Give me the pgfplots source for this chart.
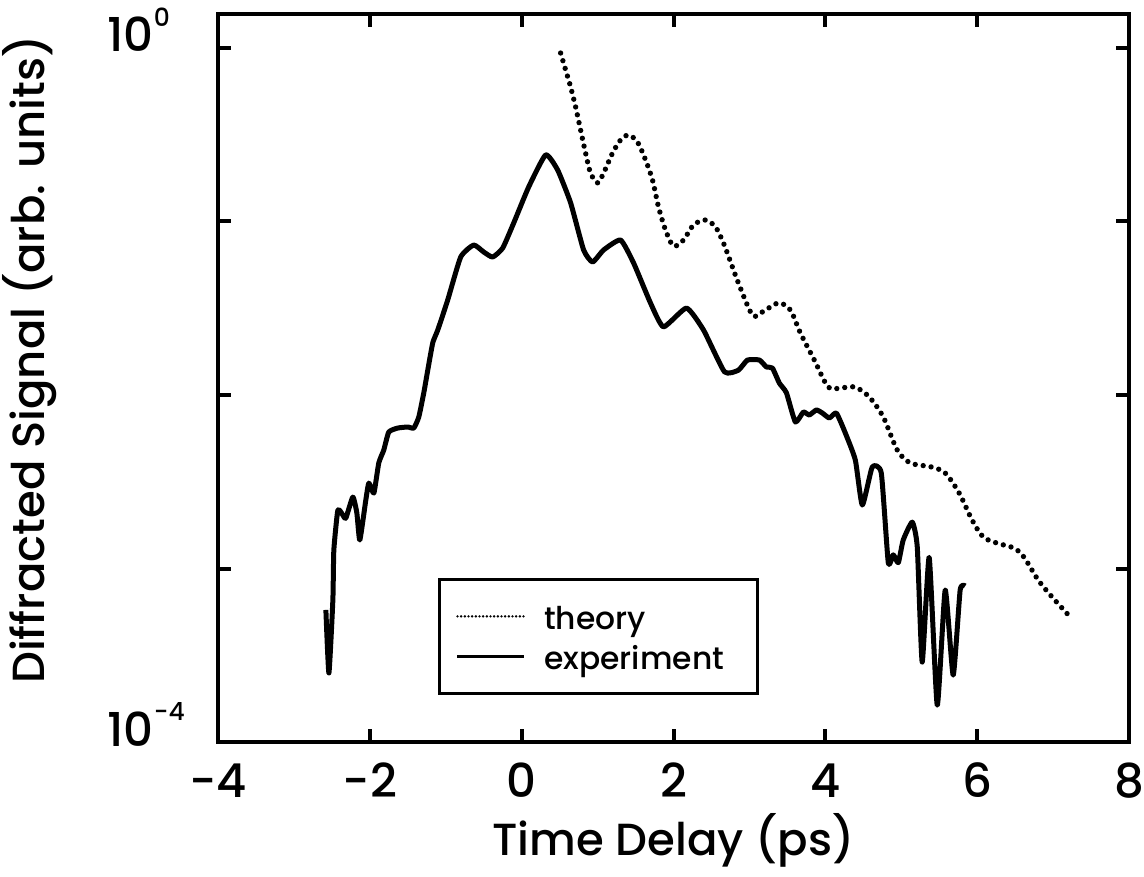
\documentclass[border=0pt]{standalone}
\usepackage{pgfplots}
\pgfplotsset{compat=1.18}
\usepackage{fontspec}
\setmainfont{Poppins}[UprightFont=* Medium]
\usetikzlibrary{calc}

\pgfplotstableread{
x y
-2.579 5.77e-4
-2.539 2.50e-4
-2.487 6.58e-4
-2.474 1.28e-3
-2.421 2.17e-3
-2.355 2.03e-3
-2.316 1.95e-3
-2.224 2.58e-3
-2.171 2.09e-3
-2.132 1.46e-3
-2.053 2.48e-3
-2.013 3.11e-3
-1.947 2.72e-3
-1.882 4.06e-3
-1.816 4.82e-3
-1.750 6.12e-3
-1.632 6.45e-3
-1.500 6.54e-3
-1.421 6.45e-3
-1.355 7.47e-3
-1.289 1.03e-2
-1.237 1.39e-2
-1.171 2.00e-2
-1.105 2.37e-2
-0.974 3.53e-2
-0.803 6.24e-2
-0.632 7.32e-2
-0.500 6.67e-2
-0.382 6.24e-2
-0.250 7.03e-2
-0.105 9.80e-2
0.092 0.158
0.316 0.242
0.474 0.198
0.645 0.128
0.816 6.85e-2
0.934 5.84e-2
1.079 6.85e-2
1.303 7.82e-2
1.474 5.77e-2
1.697 3.39e-2
1.868 2.47e-2
2.171 3.17e-2
2.395 2.37e-2
2.671 1.36e-2
2.855 1.39e-2
2.974 1.59e-2
3.132 1.59e-2
3.224 1.45e-2
3.303 1.43e-2
3.395 1.17e-2
3.487 1.03e-2
3.605 6.99e-3
3.711 7.98e-3
3.789 7.67e-3
3.882 8.20e-3
3.961 7.87e-3
4.053 7.37e-3
4.145 7.87e-3
4.263 6.04e-3
4.395 4.22e-3
4.487 2.32e-3
4.618 3.85e-3
4.737 3.55e-3
4.829 1.08e-3
4.895 1.20e-3
4.961 1.08e-3
5.026 1.46e-3
5.145 1.85e-3
5.211 1.33e-3
5.276 2.89e-4
5.368 1.16e-3
5.474 1.63e-4
5.579 7.52e-4
5.684 2.43e-4
5.776 7.52e-4
5.842 7.93e-4
}\experiment

\pgfplotstableread{
x y
0.513 0.935
0.579 0.747
0.645 0.596
0.711 0.457
0.776 0.337
0.842 0.248
0.908 0.190
1.000 0.167
1.079 0.190
1.197 0.248
1.303 0.295
1.408 0.315
1.526 0.287
1.632 0.226
1.724 0.173
1.803 0.121
1.895 8.93e-2
2.000 7.22e-2
2.132 7.82e-2
2.263 9.55e-2
2.421 0.102
2.553 9.30e-2
2.658 7.52e-2
2.776 5.47e-2
2.855 4.42e-2
3.039 2.89e-2
3.171 3.01e-2
3.382 3.39e-2
3.539 3.09e-2
3.671 2.28e-2
3.855 1.59e-2
4.039 1.11e-2
4.211 1.10e-2
4.395 1.11e-2
4.579 9.73e-3
4.763 7.47e-3
4.947 4.82e-3
5.118 4.06e-3
5.395 3.85e-3
5.579 3.55e-3
5.763 2.72e-3
5.934 1.90e-3
6.079 1.52e-3
6.263 1.40e-3
6.487 1.31e-3
6.618 1.16e-3
6.803 8.59e-4
6.987 6.85e-4
7.237 5.19e-4
}\theory

\newcommand{\supx}[1]{\raisebox{7.6pt}{\fontsize{7.5}{8}\selectfont #1}}

\begin{document}
\begin{tikzpicture}
\begin{axis}[
  scale only axis,
  width=273.3pt, height=218.4pt,
  xmin=-4, xmax=8,
  ymode=log, ymin=1e-4, ymax=1.57,
  axis line style={line width=1.2pt},
  every tick/.style={line width=1.2pt, black},
  major tick length=3.8pt,
  tick align=inside,
  xtick={-4,-2,0,2,4,6,8},
  xticklabels={−4,−2,0,2,4,6,8},
  ytick={1e-4,1e-3,1e-2,1e-1,1},
  yticklabels={10\supx{−4},,,,10\supx{0}},
  yminorticks=false,
  xtick pos=both, ytick pos=both,
  tick label style={font=\fontsize{14}{16}\selectfont},
  xticklabel style={anchor=base, yshift=-16.5pt, inner sep=0pt},
  yticklabel style={anchor=base west, inner sep=0pt, xshift=-33.3pt, yshift=-1.2pt},
  xlabel={Time Delay (ps)},
  ylabel={Diffracted Signal (arb. units)},
  label style={font=\fontsize{13.5}{16}\selectfont},
  xlabel style={at={(axis description cs:0.5,0)}, anchor=base, yshift=-34pt},
  ylabel style={at={(axis description cs:-0.2064,0.525)}, anchor=center},
  legend style={at={(rel axis cs:0.242,0.225)}, anchor=north west, draw=black,
    line width=0.9pt, font=\fontsize{9.4}{11}\selectfont,
    inner xsep=4.8pt, inner ysep=6.5pt, row sep=3pt,
    nodes={text height=8.5pt, text depth=0.5pt, inner ysep=0pt},
    /tikz/every odd column/.append style={column sep=3.6pt}},
  legend cell align=left,
  legend image code/.code={\draw[#1] (0pt,0pt) -- (20pt,0pt);},
]
\addlegendimage{black, line width=0.8pt, dash pattern=on 0pt off 1.1pt, line cap=round}
\addlegendentry{theory}
\addlegendimage{black, line width=0.9pt}
\addlegendentry{experiment\hspace*{3.2pt}}
\addplot[black, line width=1.6pt, dash pattern=on 0pt off 2.4pt, line cap=round, smooth, tension=0.5, forget plot] table[x=x,y=y] {\theory};
\addplot[black, line width=1.5pt, line join=round, smooth, tension=0.3, forget plot] table[x=x,y=y] {\experiment};
\end{axis}
\pgfresetboundingbox
\path[use as bounding box] ($(current axis.south west)+(-65.4pt,-40.2pt)$) rectangle ($(current axis.north east)+(4.5pt,4.2pt)$);
\end{tikzpicture}
\end{document}
